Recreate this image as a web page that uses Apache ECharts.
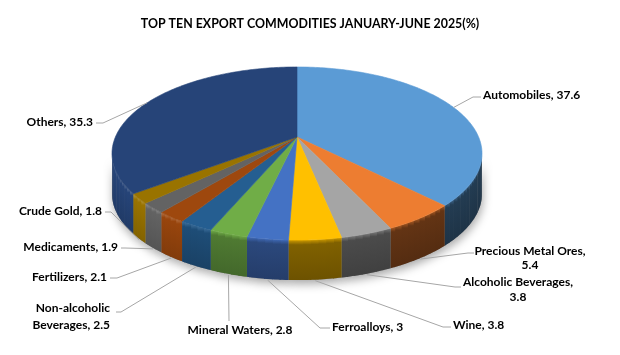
<!DOCTYPE html>
<html>
<head>
<meta charset="utf-8">
<script src="https://cdn.jsdelivr.net/npm/echarts@6/dist/echarts.min.js"></script>
<style>
html, body { margin: 0; padding: 0; background: #fff; }
#main { width: 620px; height: 355px; }
</style>
</head>
<body>
<div id="main"></div>
<script>
// data (percent shares, clockwise from 12 o'clock)
var categories = ['Automobiles', 'Precious Metal Ores', 'Alcoholic Beverages', 'Wine', 'Ferroalloys',
    'Mineral Waters', 'Non-alcoholic Beverages', 'Fertilizers', 'Medicaments', 'Crude Gold', 'Others'];
var shares = [37.6, 5.4, 3.8, 3.8, 3, 2.8, 2.5, 2.1, 1.9, 1.8, 35.3];
var colors = ['#5B9BD5', '#ED7D31', '#A5A5A5', '#FFC000', '#4472C4', '#70AD47',
    '#255E91', '#9E480E', '#636363', '#997300', '#264478'];

// label placement (Excel moved these by hand)
var labelLayout = [
    { pos: [483, 95], align: 'left', knee: [473, 97], tail: [481, 97] },
    { pos: [530, 258], align: 'center', knee: [468, 253], tail: [474, 253], wrap: 'value', lh: 14 },
    { pos: [518, 290], align: 'center', knee: [455, 287], tail: [461, 287], wrap: 'value', lh: 15 },
    { pos: [453, 325], align: 'left', knee: [443, 327], tail: [451, 327] },
    { pos: [332, 327], align: 'left', knee: [320, 328], tail: [330, 328] },
    { pos: [240, 330], align: 'center', knee: [229, 321], tail: [229, 321] },
    { pos: [110, 317], align: 'right', knee: [121, 312], tail: [116, 312], wrap: 'word', lh: 17 },
    { pos: [107, 277], align: 'right', knee: [117, 278], tail: [110, 278] },
    { pos: [118, 247], align: 'right', knee: [125, 248], tail: [121, 248] },
    { pos: [102, 211], align: 'right', knee: [111, 212], tail: [105, 212] },
    { pos: [93, 122], align: 'right', knee: [103, 123], tail: [96, 123] }
];

// pie geometry: apex, radii, perspective and thickness
var cx = 297, cy = 137, rx = 181.6, ry = 83.4, persp = 0.191, depth = 40;
var edgeR = Math.acos(-persp), edgeL = Math.PI * 2 - edgeR;
// side lighting by angle (deg) -> brightness
var sideLight = [[100, 0.4], [150, 0.42], [175, 0.5], [190, 0.66], [200, 0.72], [210, 0.85], [218, 1.0], [260, 1.0]];

var total = shares.reduce(function (a, b) { return a + b; }, 0);
var seriesData = [];
var cum = 0;
shares.forEach(function (v, i) {
    seriesData.push({ name: categories[i], value: [v, cum] });
    cum += v;
});

function rim(t, dy) {
    var s = 1 / (1 + persp * Math.cos(t));
    return [cx + rx * Math.sin(t) * s, cy - ry * Math.cos(t) * s + (dy || 0)];
}
function arc(a0, a1, dy) {
    var n = Math.max(2, Math.ceil((a1 - a0) / (Math.PI / 180)));
    var pts = [];
    for (var i = 0; i <= n; i++) pts.push(rim(a0 + (a1 - a0) * i / n, dy));
    return pts;
}
function shade(hex, f) {
    var n = parseInt(hex.slice(1), 16);
    var c = [(n >> 16) & 255, (n >> 8) & 255, n & 255].map(function (v) {
        var o = f <= 1 ? v * f : v + (255 - v) * (f - 1);
        return Math.max(0, Math.min(255, Math.round(o)));
    });
    return 'rgb(' + c.join(',') + ')';
}
function lightAt(deg) {
    for (var i = 1; i < sideLight.length; i++) {
        if (deg <= sideLight[i][0]) {
            var a = sideLight[i - 1], b = sideLight[i];
            return a[1] + (b[1] - a[1]) * (deg - a[0]) / (b[0] - a[0]);
        }
    }
    return sideLight[sideLight.length - 1][1];
}
function angles(api) {
    var a0 = api.value(1) / total * Math.PI * 2;
    var a1 = (api.value(1) + api.value(0)) / total * Math.PI * 2;
    return [a0, a1];
}

function renderShadow(params, api) {
    var a = angles(api);
    var lo = Math.max(a[0], edgeR), hi = Math.min(a[1], edgeL);
    if (lo >= hi) return null;
    return {
        type: 'polygon',
        shape: { points: arc(lo, hi, 0).concat(arc(lo, hi, depth).reverse()) },
        style: { fill: '#888', shadowBlur: 10, shadowColor: 'rgba(0,0,0,0.35)', shadowOffsetY: 4, shadowOffsetX: 1 }
    };
}

function renderSide(params, api) {
    var a = angles(api);
    var lo = Math.max(a[0], edgeR), hi = Math.min(a[1], edgeL);
    if (lo >= hi) return null;
    var col = colors[params.dataIndex];
    var f = lightAt(((a[0] + a[1]) / 2) * 180 / Math.PI);
    var step = Math.PI / 90, over = Math.PI / 600;
    var kids = [];
    for (var t = lo; t < hi; t += step) {
        var t2 = Math.min(hi, t + step + over);
        kids.push({
            type: 'polygon',
            shape: { points: arc(t, t2, 0).concat(arc(t, t2, depth).reverse()) },
            style: {
                fill: {
                    type: 'linear', x: 0, y: 0, x2: 0, y2: 1,
                    colorStops: [
                        { offset: 0, color: shade(col, f + 0.3) },
                        { offset: 0.12, color: shade(col, f) },
                        { offset: 1, color: shade(col, f * 0.85) }
                    ]
                }
            }
        });
    }
    return { type: 'group', children: kids };
}

function renderTop(params, api) {
    var a = angles(api);
    var col = colors[params.dataIndex];
    return {
        type: 'polygon',
        shape: { points: [[cx, cy]].concat(arc(a[0], a[1], 0)) },
        style: { fill: col, stroke: col, lineWidth: 0.6 }
    };
}

function renderLabel(params, api) {
    var i = params.dataIndex;
    var lay = labelLayout[i];
    var a = angles(api);
    var mid = (a[0] + a[1]) / 2;
    var front = mid > edgeR && mid < edgeL;
    var anchor = rim(mid, front ? depth + 1 : 0);
    var name = categories[i], val = api.value(0);
    var txt;
    if (lay.wrap === 'value') txt = name + ',\n' + val;
    else if (lay.wrap === 'word') txt = name.replace(' ', '\n') + ', ' + val;
    else txt = name + ', ' + val;
    return {
        type: 'group',
        children: [
            {
                type: 'polyline',
                shape: { points: [anchor, lay.knee, lay.tail] },
                style: { stroke: '#a6a6a6', lineWidth: 1, fill: null }
            },
            {
                type: 'text',
                style: {
                    text: txt, x: lay.pos[0], y: lay.pos[1],
                    align: lay.align, verticalAlign: 'middle',
                    font: 'bold 12px Lato', fill: '#000', lineHeight: lay.lh || 14
                }
            }
        ]
    };
}

var option = {
    animation: false,
    title: {
        text: 'TOP TEN EXPORT COMMODITIES JANUARY-JUNE 2025(%)',
        left: 'center',
        top: 13,
        textStyle: { fontFamily: 'Lato', fontWeight: 'bold', fontSize: 12.4, color: '#000' }
    },
    series: [
        { type: 'custom', coordinateSystem: 'none', z: 1, data: seriesData, renderItem: renderShadow, silent: true },
        { type: 'custom', coordinateSystem: 'none', z: 2, data: seriesData, renderItem: renderSide },
        { type: 'custom', coordinateSystem: 'none', z: 3, data: seriesData, renderItem: renderTop },
        { type: 'custom', coordinateSystem: 'none', z: 4, data: seriesData, renderItem: renderLabel, silent: true }
    ]
};

var chartDom = document.getElementById('main');
var myChart = echarts.init(chartDom);
myChart.setOption(option);
</script>
</body>
</html>
